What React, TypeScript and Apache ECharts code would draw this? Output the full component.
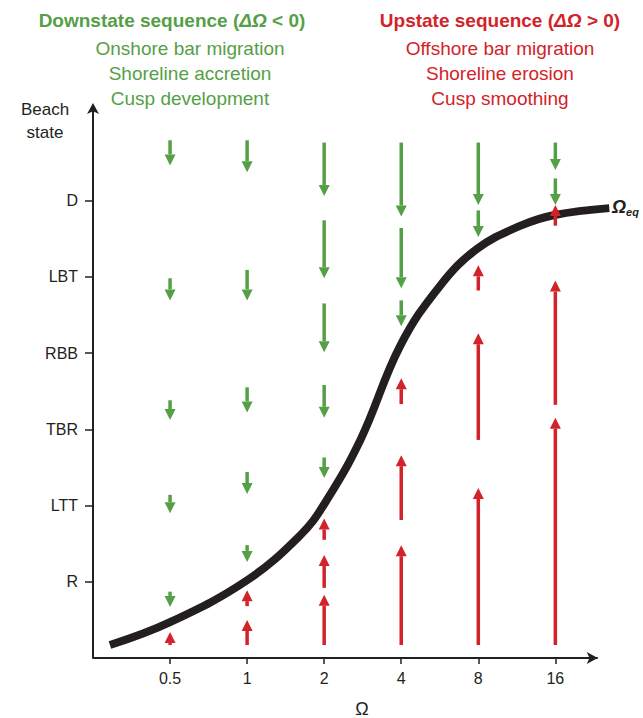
import React, { useEffect, useRef } from "react";
import * as echarts from "echarts";

const xLabels = ["0.5", "1", "2", "4", "8", "16"];
const yLabels = ["", "R", "LTT", "TBR", "RBB", "LBT", "D"];
const curve: [number, number][] = [
  [-0.78, 0.17], [0, 0.47], [1, 1.02], [1.69, 1.61], [1.99, 2.0], [2.47, 2.86],
  [2.99, 4.1], [3.51, 4.89], [3.99, 5.37], [4.55, 5.67], [4.99, 5.81], [5.7, 5.9],
];
// [x, tail y, head y]
const downArrows: [number, number, number][] = [
  [0, 6.79, 6.46], [0, 4.98, 4.69], [0, 3.38, 3.12], [0, 2.14, 1.9], [0, 0.87, 0.67],
  [1, 6.79, 6.37], [1, 5.09, 4.69], [1, 3.55, 3.22], [1, 2.44, 2.15], [1, 1.48, 1.26],
  [2, 6.76, 6.06], [2, 5.74, 4.98], [2, 4.65, 4.01], [2, 3.58, 3.15], [2, 2.63, 2.36],
  [3, 6.76, 5.79], [3, 5.64, 4.85], [3, 4.69, 4.35],
  [4, 6.76, 5.94], [4, 5.87, 5.52],
  [5, 6.76, 6.4], [5, 6.29, 5.94],
];
const upArrows: [number, number, number][] = [
  [0, 0.17, 0.34],
  [1, 0.68, 0.89], [1, 0.17, 0.5],
  [2, 1.55, 1.83], [2, 0.92, 1.35], [2, 0.17, 0.83],
  [3, 3.33, 3.67], [3, 1.81, 2.66], [3, 0.17, 1.48],
  [4, 4.82, 5.15], [4, 2.86, 4.26], [4, 0.17, 2.23],
  [5, 5.67, 5.94], [5, 3.32, 4.95], [5, 0.17, 3.15],
];

const GREEN = "#55a047";
const RED = "#d2232a";

function arrowSeries(data: [number, number, number][], color: string) {
  return {
    type: "custom",
    data,
    renderItem: (params: any, api: any) => {
      const x = api.value(0), y0 = api.value(1), y1 = api.value(2);
      const a = api.coord([x, y0]);
      const b = api.coord([x, y1]);
      const dir = b[1] > a[1] ? 1 : -1;
      const hl = 11, hw = 5.5;
      const base = b[1] - dir * hl;
      return {
        type: "group",
        children: [
          { type: "line", shape: { x1: a[0], y1: a[1], x2: b[0], y2: base }, style: { stroke: color, lineWidth: 3.5 } },
          { type: "polygon", shape: { points: [[b[0], b[1]], [b[0] - hw, base], [b[0] + hw, base]] }, style: { fill: color } },
        ],
      };
    },
    z: 3,
  };
}

export default function App() {
  const ref = useRef<HTMLDivElement>(null);
  useEffect(() => {
    document.body.style.margin = "0";
    const chart = echarts.init(ref.current!, null, { renderer: "svg" });
    const font = "Arial, 'Liberation Sans', sans-serif";
    chart.setOption({
      animation: false,
      textStyle: { fontFamily: font },
      grid: { left: 93, right: 26, top: 109, bottom: 60 },
      xAxis: {
        type: "value", min: -1, max: 5.8, interval: 1,
        axisLine: { show: false, onZero: false },
        splitLine: { show: false },
        axisTick: { show: true, customValues: [0, 1, 2, 3, 4, 5], length: 6, lineStyle: { color: "#231f20", width: 1.5 } },
        axisLabel: { customValues: [0, 1, 2, 3, 4, 5], formatter: (v: number) => xLabels[v] ?? "", color: "#231f20", fontSize: 16, margin: 12, fontFamily: font },
      },
      yAxis: {
        type: "value", min: 0, max: 7.2, interval: 1,
        axisLine: { show: true, onZero: false, symbol: ["none", "arrow"], symbolSize: [9, 11], symbolOffset: [0, 6], lineStyle: { color: "#231f20", width: 2 } },
        splitLine: { show: false },
        axisTick: { show: true, customValues: [1, 2, 3, 4, 5, 6], length: 8, lineStyle: { color: "#231f20", width: 1.5 } },
        axisLabel: { customValues: [1, 2, 3, 4, 5, 6], formatter: (v: number) => yLabels[v] ?? "", color: "#231f20", fontSize: 16, margin: 15, fontFamily: font },
      },
      series: [
        {
          type: "line", data: curve, smooth: 0.4, symbol: "none",
          lineStyle: { color: "#231f20", width: 8 }, z: 2,
          markLine: {
            silent: true, symbol: ["none", "arrow"], symbolSize: [9, 11],
            label: { show: false },
            lineStyle: { color: "#231f20", width: 2, type: "solid" },
            data: [[{ coord: [-1, 0] }, { coord: [5.55, 0] }]],
          },
        },
        arrowSeries(downArrows, GREEN),
        arrowSeries(upArrows, RED),
      ],
      graphic: [
        { type: "text", x: 45, y: 98, style: { text: "Beach\nstate", fill: "#231f20", font: `17px ${font}`, align: "center", lineHeight: 23 } },
        { type: "text", x: 362, y: 700, style: { text: "Ω", fill: "#231f20", font: `18px ${font}`, align: "center" } },
        {
          type: "text", x: 612, y: 196,
          style: { text: "{a|Ω}{b|eq}", rich: { a: { font: `bold italic 18px ${font}`, fill: "#231f20" }, b: { font: `bold italic 11px ${font}`, fill: "#231f20", padding: [10, 0, 0, 0] } } },
        },
        {
          type: "text", x: 172, y: 11,
          style: {
            text: "{t|Downstate sequence (}{i|ΔΩ}{t| < 0)}", align: "center",
            rich: { t: { font: `bold 19px ${font}`, fill: GREEN }, i: { font: `bold italic 19px ${font}`, fill: GREEN } },
          },
        },
        { type: "text", x: 190, y: 36, style: { text: "Onshore bar migration\nShoreline accretion\nCusp development", align: "center", fill: GREEN, font: `19px ${font}`, lineHeight: 25 } },
        {
          type: "text", x: 500, y: 11,
          style: {
            text: "{t|Upstate sequence (}{i|ΔΩ}{t| > 0)}", align: "center",
            rich: { t: { font: `bold 19px ${font}`, fill: RED }, i: { font: `bold italic 19px ${font}`, fill: RED } },
          },
        },
        { type: "text", x: 500, y: 36, style: { text: "Offshore bar migration\nShoreline erosion\nCusp smoothing", align: "center", fill: RED, font: `19px ${font}`, lineHeight: 25 } },
      ],
    });
    return () => chart.dispose();
  }, []);
  return <div ref={ref} style={{ width: 643, height: 718 }} />;
}
